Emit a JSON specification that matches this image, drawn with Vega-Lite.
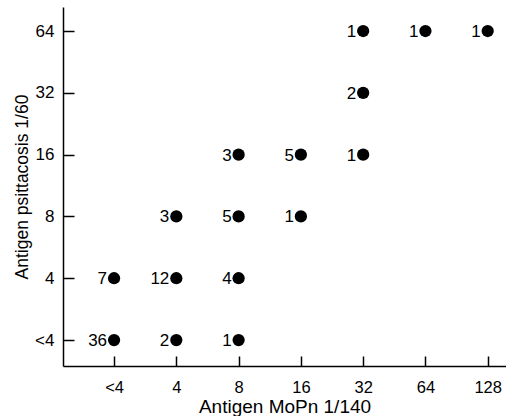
{
  "$schema": "https://vega.github.io/schema/vega-lite/v6.json",
  "autosize": "none",
  "width": 443,
  "height": 359,
  "padding": {"left": 63, "top": 7, "right": 0, "bottom": 50},
  "background": "white",
  "config": {
    "view": {"stroke": null},
    "font": "Liberation Sans",
    "axis": {"grid": false, "domainColor": "black", "tickColor": "black", "domainWidth": 1.5, "tickWidth": 1.5, "labelColor": "black", "titleColor": "black", "labelFontSize": 17, "titleFontSize": 19, "titleFontWeight": "normal", "labelFont": "Liberation Sans", "titleFont": "Liberation Sans"}
  },
  "data": {
    "values": [
      {"mopn": 2, "psitt": 2, "n": 36},
      {"mopn": 4, "psitt": 2, "n": 2},
      {"mopn": 8, "psitt": 2, "n": 1},
      {"mopn": 2, "psitt": 4, "n": 7},
      {"mopn": 4, "psitt": 4, "n": 12},
      {"mopn": 8, "psitt": 4, "n": 4},
      {"mopn": 4, "psitt": 8, "n": 3},
      {"mopn": 8, "psitt": 8, "n": 5},
      {"mopn": 16, "psitt": 8, "n": 1},
      {"mopn": 8, "psitt": 16, "n": 3},
      {"mopn": 16, "psitt": 16, "n": 5},
      {"mopn": 32, "psitt": 16, "n": 1},
      {"mopn": 32, "psitt": 32, "n": 2},
      {"mopn": 32, "psitt": 64, "n": 1},
      {"mopn": 64, "psitt": 64, "n": 1},
      {"mopn": 128, "psitt": 64, "n": 1}
    ]
  },
  "encoding": {
    "x": {
      "field": "mopn", "type": "quantitative",
      "scale": {"type": "log", "base": 2, "domain": [1.133, 156.9], "nice": false, "zero": false},
      "axis": {"values": [2, 4, 8, 16, 32, 64, 128], "labelExpr": "datum.value == 2 ? '<4' : datum.label", "tickSize": -10, "labelPadding": 23, "labelFontSize": 16.5, "title": "Antigen MoPn 1/140", "titlePadding": 2, "labelFlush": false}
    },
    "y": {
      "field": "psitt", "type": "quantitative",
      "scale": {"type": "log", "base": 2, "domain": [1.495, 83.8], "nice": false, "zero": false},
      "axis": {"values": [2, 4, 8, 16, 32, 64], "labelExpr": "datum.value == 2 ? '<4' : datum.label", "tickSize": -11, "labelPadding": 20, "title": "Antigen psittacosis 1/60", "titleFontSize": 17.5, "titlePadding": 3, "labelFlush": false}
    }
  },
  "layer": [
    {"mark": {"type": "point", "filled": true, "shape": "circle", "size": 150, "color": "black", "opacity": 1}},
    {"mark": {"type": "text", "align": "right", "baseline": "middle", "dx": -7, "dy": 1, "fontSize": 17, "color": "black", "font": "Liberation Sans"}, "encoding": {"text": {"field": "n", "type": "quantitative"}}}
  ]
}
